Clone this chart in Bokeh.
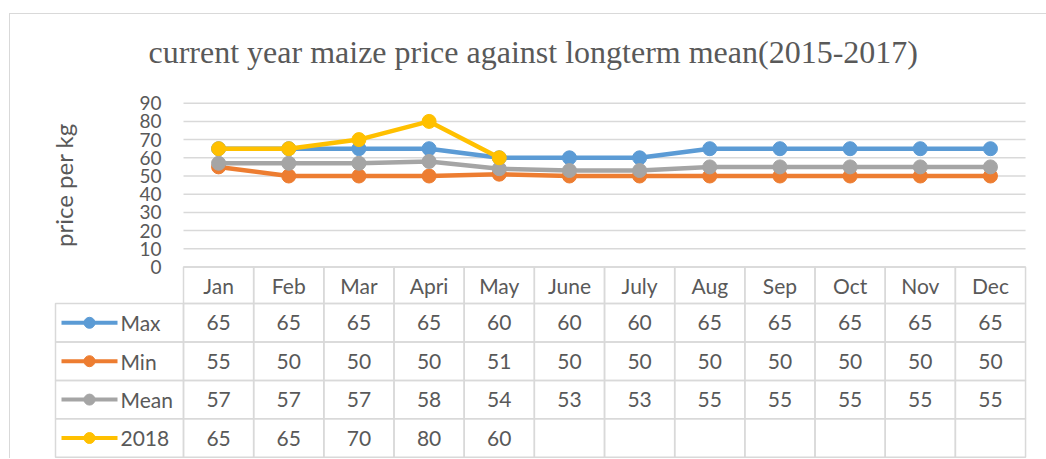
import math
from bokeh.plotting import figure
from bokeh.models import Range1d, ColumnDataSource
from bokeh.layouts import column
from bokeh.embed import file_html
from bokeh.resources import INLINE
from bokeh.core.properties import value

# ---------------- data ----------------
months = ["Jan", "Feb", "Mar", "Apri", "May", "June", "July", "Aug", "Sep", "Oct", "Nov", "Dec"]
series_names = ["Max", "Min", "Mean", "2018"]
max_vals = [65, 65, 65, 65, 60, 60, 60, 65, 65, 65, 65, 65]
min_vals = [55, 50, 50, 50, 51, 50, 50, 50, 50, 50, 50, 50]
mean_vals = [57, 57, 57, 58, 54, 53, 53, 55, 55, 55, 55, 55]
y2018_vals = [65, 65, 70, 80, 60]
y_ticks = [0, 10, 20, 30, 40, 50, 60, 70, 80, 90]
title_text = "current year maize price against longterm mean(2015-2017)"
y_label = "price per kg"

# ---------------- styles / geometry ----------------
colors = ["#5B9BD5", "#ED7D31", "#A5A5A5", "#FFC000"]
TEXT = "#595959"
GRID = "#D9D9D9"
SANS = "Lato"
SERIF = "Liberation Serif"
all_series = [max_vals, min_vals, mean_vals, y2018_vals]

n = len(months)
nrows = len(series_names)
U = 70.17            # px per month column
LEG = 128 / U        # legend column width (month units)
FRAME_W = 1036
FRAME_H = 373
TOP = 71
X0 = -173 / U        # left edge of frame in month units
X1 = X0 + FRAME_W / U
PPU = 1.82           # px per price unit
Y1 = 90 + 17.7 / PPU
Y0 = Y1 - FRAME_H / PPU
ROW = 38.4           # px per table row
HDR = 36.5 / ROW     # header row height in row units
T0 = -1.3 / ROW
T1 = T0 + FRAME_H / ROW

p = figure(x_range=Range1d(X0, X1), y_range=Range1d(Y0, Y1),
           frame_width=FRAME_W, frame_height=FRAME_H,
           min_border_left=0, min_border_right=0, min_border_top=TOP, min_border_bottom=0,
           output_backend="svg", toolbar_location=None)
p.extra_y_ranges = {"tbl": Range1d(T0, T1)}
p.outline_line_color = None
p.axis.visible = False
p.grid.visible = False
p.background_fill_color = "white"
p.border_fill_color = "white"

p.title.text = title_text
p.title.text_font = SERIF
p.title.text_font_size = "32px"
p.title.text_font_style = "normal"
p.title.text_color = TEXT
p.title.align = "left"
p.title.offset = 138
p.title.standoff = 32

# ---- value axis: grid lines, tick labels, axis title ----
p.segment(x0=[0] * len(y_ticks), x1=[n] * len(y_ticks), y0=y_ticks, y1=y_ticks,
          line_color=GRID, line_width=1.5)
p.text(x=[-22 / U] * len(y_ticks), y=y_ticks, text=[str(t) for t in y_ticks],
       text_font=value(SANS), text_font_size="19px", text_color=TEXT,
       text_align="right", text_baseline="middle")
p.text(x=[-120 / U], y=[(y_ticks[0] + y_ticks[-1]) / 2], text=[y_label], angle=math.pi / 2,
       text_font=value(SANS), text_font_size="24px", text_color=TEXT,
       text_align="center", text_baseline="middle")

# ---- series ----
for vals, col in zip(all_series, colors):
    xs = [i + 0.5 for i in range(len(vals))]
    src = ColumnDataSource(dict(x=xs, y=vals))
    p.line("x", "y", source=src, line_color=col, line_width=4.5, line_join="round")
    p.scatter("x", "y", source=src, size=14, fill_color=col, line_color=col)

# ---- data table ----
cx, cy, cw, ch = [], [], [], []
for i in range(n):
    cx.append(i + 0.5); cy.append(nrows + HDR / 2); cw.append(1.0); ch.append(HDR)
    for r in range(nrows):
        cx.append(i + 0.5); cy.append(r + 0.5); cw.append(1.0); ch.append(1.0)
for r in range(nrows):
    cx.append(-LEG / 2); cy.append(r + 0.5); cw.append(LEG); ch.append(1.0)
p.rect(x=cx, y=cy, width=cw, height=ch, fill_color=None, line_color=GRID, line_width=1.5,
       y_range_name="tbl")

p.text(x=[i + 0.5 for i in range(n)], y=[nrows + HDR / 2] * n, text=months,
       text_font=value(SANS), text_font_size="21px", text_color=TEXT,
       text_align="center", text_baseline="middle", y_range_name="tbl")

tx, ty, tt = [], [], []
for k, vals in enumerate(all_series):
    for i, v in enumerate(vals):
        tx.append(i + 0.5)
        ty.append(nrows - 1 - k + 0.5)
        tt.append(str(v))
p.text(x=tx, y=ty, text=tt, text_font=value(SANS), text_font_size="21px",
       text_color=TEXT, text_align="center", text_baseline="middle", y_range_name="tbl")

row_centers = [nrows - 1 - k + 0.5 for k in range(nrows)]
p.segment(x0=[-122 / U] * nrows, x1=[-66 / U] * nrows, y0=row_centers, y1=row_centers,
          line_color=colors, line_width=4, y_range_name="tbl")
p.scatter(x=[-94 / U] * nrows, y=row_centers, size=11, fill_color=colors, line_color=colors,
          y_range_name="tbl")
p.text(x=[-63 / U] * nrows, y=row_centers, text=series_names, text_font=value(SANS),
       text_font_size="21px", text_color=TEXT, text_align="left", text_baseline="middle",
       y_range_name="tbl")

layout = column(p, margin=(13, 0, 0, 9),
                styles={"border-top": "1px solid #D9D9D9", "border-left": "1px solid #D9D9D9"})

open("out.html", "w").write(file_html(layout, INLINE))
